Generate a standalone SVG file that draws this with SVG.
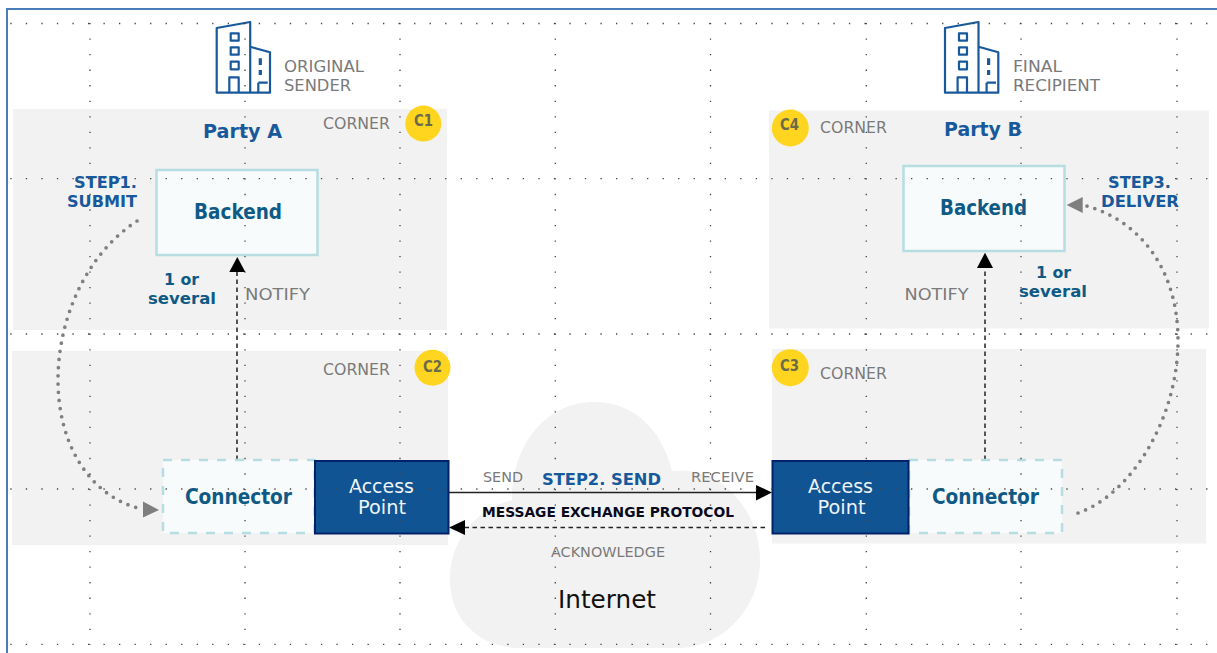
<svg xmlns="http://www.w3.org/2000/svg" width="1217" height="653" viewBox="0 0 1217 653">
<style>
text{font-family:"DejaVu Sans",Verdana,sans-serif}
.zone{fill:#f2f2f2}
.lbl{font-size:16px;fill:#7a7a7a}
.small{font-size:13.5px;fill:#7a7a7a}
.party{font-size:19.5px;font-weight:700;fill:#17599b}
.step{font-size:16px;font-weight:700;fill:#17599b}
.count{font-size:16px;font-weight:700;fill:#0f5a85}
.title{font-size:21px;font-weight:700;fill:#0f5a85}
.ap-t{font-size:19.5px;fill:#eef4fa}
.badge{fill:#ffd520}
.badge-t{font-size:15px;font-weight:700;fill:#6b6b4a}
.box{fill:#f7fbfc;stroke:#b7dde2;stroke-width:2.5}
.dash{fill:#f7fbfc;stroke:#b7dde2;stroke-width:2.5;stroke-dasharray:9 9}
.ap{fill:#105493;stroke:#012169;stroke-width:2}
.icon{fill:none;stroke:#17599b;stroke-width:2.2;stroke-linejoin:round}
.grid{fill:none;stroke:#444;stroke-width:1.3;stroke-dasharray:1.3 14.23}
.flow{fill:none;stroke:#222;stroke-width:1.5;stroke-dasharray:4.5 3.5}
.solid{fill:none;stroke:#222;stroke-width:1.5}
.curve{fill:none;stroke:#7f7f7f;stroke-width:3.7;stroke-linecap:round;stroke-dasharray:0 8.2}
</style>
<defs>
<g id="bld">
<path class="icon" d="M0 7L33.5 1V71.7H0ZM33.5 25.7L53.3 31.3V71.7H33.5"/>
<path class="icon" d="M14 12.3h8v7.4h-8zM14 26.3h8v7.4h-8zM14 40.7h8v7.6h-8zM12.6 71.7V56.3h9.4V71.7M41.6 71.7V61.7M51 61.7H41.6"/>
<path d="M42 37.3h3.2v6.7H42zM42 49h3.2v5H42z" fill="#17599b"/>
</g>
</defs>
<rect x="7" y="9" width="1212" height="650" fill="#fff" stroke="#4a7ebb" stroke-width="2"/>
<rect class="zone" x="13" y="109" width="434" height="221"/>
<rect class="zone" x="12" y="351" width="436" height="194"/>
<rect class="zone" x="769" y="110.5" width="440" height="218"/>
<rect class="zone" x="772" y="349" width="434" height="194.5"/>
<g id="internet">
<path class="zone" d="M512 500C512 440 550 402 593 402C635 402 662 430 672 471C720 465 760 510 760 560C760 615 715 648 680 648L520 648C480 648 450 620 450 580C450 540 475 510 512 500Z"/>
<text x="558" y="608" font-size="25" fill="#111" textLength="98" lengthAdjust="spacingAndGlyphs">Internet</text>
</g>
<g id="connectors">
<path class="flow" d="M237 460V270"/>
<path d="M237.3 257L245.3 272H229.3Z" fill="#000"/>
<path class="flow" d="M985 460V267"/>
<path d="M985 252.7L993 268H977Z" fill="#000"/>
<path class="solid" d="M449 492.5H757"/>
<path d="M772 492.5L756 485V500.5Z" fill="#000"/>
<path class="flow" d="M765 527.5H464"/>
<path d="M449 527.5L465 520V535Z" fill="#000"/>
<path class="curve" d="M137 221C85 255 58 320 58 380C58 445 90 495 138 508"/>
<path d="M159 510L143 501.5V517.5Z" fill="#7f7f7f"/>
<path class="curve" d="M1078 513C1130 495 1178 420 1178 340C1178 270 1140 220 1085 205.5"/>
<path d="M1066.7 205L1082.7 197V213Z" fill="#7f7f7f"/>
<text class="small" x="483" y="482" textLength="40" lengthAdjust="spacingAndGlyphs">SEND</text>
<text class="step" x="542" y="485" textLength="119" lengthAdjust="spacingAndGlyphs">STEP2. SEND</text>
<text class="small" x="691" y="482" textLength="63" lengthAdjust="spacingAndGlyphs">RECEIVE</text>
<text x="482" y="516.5" font-size="14" font-weight="700" fill="#0a0a1e" textLength="252" lengthAdjust="spacingAndGlyphs">MESSAGE EXCHANGE PROTOCOL</text>
<text class="small" x="551" y="556.5" textLength="114" lengthAdjust="spacingAndGlyphs">ACKNOWLEDGE</text>
<text class="step" x="74" y="188" textLength="63" lengthAdjust="spacingAndGlyphs">STEP1.</text>
<text class="step" x="67" y="207" textLength="70" lengthAdjust="spacingAndGlyphs">SUBMIT</text>
<text class="step" x="1108" y="188" textLength="63" lengthAdjust="spacingAndGlyphs">STEP3.</text>
<text class="step" x="1101" y="207" textLength="78" lengthAdjust="spacingAndGlyphs">DELIVER</text>
<text class="lbl" x="245" y="300" textLength="65" lengthAdjust="spacingAndGlyphs">NOTIFY</text>
<text class="lbl" x="904.5" y="300" textLength="64" lengthAdjust="spacingAndGlyphs">NOTIFY</text>
<text class="count" x="164" y="285" textLength="35" lengthAdjust="spacingAndGlyphs">1 or</text>
<text class="count" x="148" y="304" textLength="68" lengthAdjust="spacingAndGlyphs">several</text>
<text class="count" x="1036" y="278" textLength="35" lengthAdjust="spacingAndGlyphs">1 or</text>
<text class="count" x="1019" y="297" textLength="68" lengthAdjust="spacingAndGlyphs">several</text>
</g>
<g id="original-sender">
<use href="#bld" x="216.7" y="21"/>
<text class="lbl" x="284" y="72" textLength="80" lengthAdjust="spacingAndGlyphs">ORIGINAL</text>
<text class="lbl" x="284" y="91" textLength="67" lengthAdjust="spacingAndGlyphs">SENDER</text>
</g>
<g id="final-recipient">
<use href="#bld" x="945" y="21"/>
<text class="lbl" x="1013" y="72" textLength="49" lengthAdjust="spacingAndGlyphs">FINAL</text>
<text class="lbl" x="1013" y="91" textLength="87" lengthAdjust="spacingAndGlyphs">RECIPIENT</text>
</g>
<g id="party-a"><text class="party" x="203" y="138" textLength="79" lengthAdjust="spacingAndGlyphs">Party A</text></g>
<g id="party-b"><text class="party" x="944" y="136" textLength="78" lengthAdjust="spacingAndGlyphs">Party B</text></g>
<g id="corner-c1">
<text class="lbl" x="323" y="129" textLength="67" lengthAdjust="spacingAndGlyphs">CORNER</text>
<circle class="badge" cx="423.3" cy="123.6" r="18"/>
<text class="badge-t" x="414" y="126" textLength="19" lengthAdjust="spacingAndGlyphs">C1</text>
</g>
<g id="corner-c2">
<text class="lbl" x="323" y="375" textLength="67" lengthAdjust="spacingAndGlyphs">CORNER</text>
<circle class="badge" cx="432.5" cy="367.7" r="18"/>
<text class="badge-t" x="423" y="372" textLength="19" lengthAdjust="spacingAndGlyphs">C2</text>
</g>
<g id="corner-c3">
<circle class="badge" cx="790.3" cy="367.7" r="18.5"/>
<text class="badge-t" x="780" y="371" textLength="19" lengthAdjust="spacingAndGlyphs">C3</text>
<text class="lbl" x="820" y="379" textLength="67" lengthAdjust="spacingAndGlyphs">CORNER</text>
</g>
<g id="corner-c4">
<circle class="badge" cx="790.3" cy="128" r="18.5"/>
<text class="badge-t" x="780" y="130" textLength="19" lengthAdjust="spacingAndGlyphs">C4</text>
<text class="lbl" x="820" y="133" textLength="67" lengthAdjust="spacingAndGlyphs">CORNER</text>
</g>
<g id="backend-a">
<rect class="box" x="156.5" y="170" width="161" height="85"/>
<text class="title" x="194" y="218.5" textLength="88" lengthAdjust="spacingAndGlyphs">Backend</text>
</g>
<g id="backend-b">
<rect class="box" x="903.5" y="166" width="161" height="85"/>
<text class="title" x="940" y="215" textLength="87" lengthAdjust="spacingAndGlyphs">Backend</text>
</g>
<g id="connector-a">
<rect class="dash" x="163" y="460" width="151.5" height="73"/>
<text class="title" x="185" y="504" textLength="107" lengthAdjust="spacingAndGlyphs">Connector</text>
</g>
<g id="access-point-a">
<rect class="ap" x="315" y="461" width="133.5" height="72.5"/>
<text class="ap-t" x="349" y="493" textLength="65" lengthAdjust="spacingAndGlyphs">Access</text>
<text class="ap-t" x="358" y="514" textLength="48" lengthAdjust="spacingAndGlyphs">Point</text>
</g>
<g id="connector-b">
<rect class="dash" x="909" y="460" width="153" height="73"/>
<text class="title" x="932" y="504" textLength="107" lengthAdjust="spacingAndGlyphs">Connector</text>
</g>
<g id="access-point-b">
<rect class="ap" x="772.5" y="461" width="136" height="72.5"/>
<text class="ap-t" x="808" y="493" textLength="65" lengthAdjust="spacingAndGlyphs">Access</text>
<text class="ap-t" x="817.5" y="514" textLength="48" lengthAdjust="spacingAndGlyphs">Point</text>
</g>
<path class="grid" d="M10.3 23.5H1209M10.3 178.7H1209M10.3 334H1209M10.3 489H1209M10.3 644.3H1209M90 23V645M245 23V645M400 23V645M555.3 23V645M710.5 23V645M866.3 23V645M1021 23V645M1177 23V645"/>
</svg>
